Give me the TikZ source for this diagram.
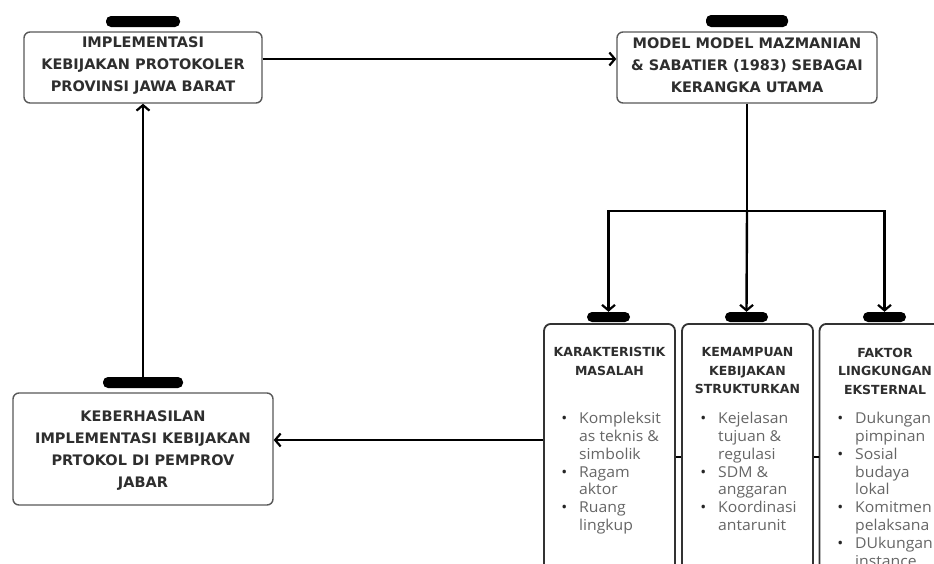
\documentclass[tikz,border=0pt]{standalone}
\usepackage{fontspec}
\setmainfont{Open Sans}[FakeStretch=1.05]
\newfontfamily\hdfont{DejaVu Sans}
\usetikzlibrary{arrows.meta}
\begin{document}
\begin{tikzpicture}[x=1pt,y=-1pt,
  box/.style={draw=black!65, line width=1.4pt, rounded corners=6pt, fill=white, inner sep=0pt},
  colbox/.style={draw=black!80, line width=1.8pt, rounded corners=7pt, fill=white, inner sep=0pt, minimum width=131pt, minimum height=300pt, anchor=north},
  tabbar/.style={fill=black, rounded corners=5pt, inner sep=0pt},
  conn/.style={line width=2.4pt, -{Straight Barb[length=5.5pt,width=13pt,line width=2.2pt]}},
  plain/.style={line width=2.2pt},
  hd/.style={font=\hdfont\bfseries\fontsize{14.5}{22}\selectfont, text=black!82, align=center, inner sep=0pt},
  sh/.style={font=\hdfont\bfseries\fontsize{12.5}{18.5}\selectfont, text=black!82, align=center, inner sep=0pt},
  body/.style={font=\fontsize{15}{17.8}\selectfont, text=black!60, align=left, inner sep=0pt, anchor=north west},
]
\useasboundingbox (0,0) rectangle (934,563);
\fill[white] (0,0) rectangle (934,563);
\clip (0,0) rectangle (934,563);
\newcommand\bul{\llap{\textcolor{black!85}{\textbullet}\hspace{12pt}}}

% top left box
\node[box, minimum width=238pt, minimum height=71pt] (tl) at (143,67.5) {};
\node[tabbar, minimum width=74pt, minimum height=11pt] (tlt) at (143,21.5) {};
\node[hd] (tltx) at (143,65.5) {IMPLEMENTASI\\KEBIJAKAN PROTOKOLER\\PROVINSI JAWA BARAT};

% model box
\node[box, minimum width=260pt, minimum height=71pt] (mm) at (747,67.5) {};
\node[tabbar, minimum width=82pt, minimum height=12pt] (mmt) at (747,21) {};
\node[hd] (mmtx) at (747,65.5) {MODEL MODEL MAZMANIAN\\\& SABATIER (1983) SEBAGAI\\KERANGKA UTAMA};

% bottom left box
\node[box, minimum width=260pt, minimum height=112pt] (bl) at (143,449) {};
\node[tabbar, minimum width=80pt, minimum height=11pt] (blt) at (143,382.5) {};
\node[hd] (bltx) at (143,450.5) {KEBERHASILAN\\IMPLEMENTASI KEBIJAKAN\\PRTOKOL DI PEMPROV\\JABAR};

% three column boxes
\node[colbox] (b1) at (609.5,323) {};
\node[colbox] (b2) at (747.5,323) {};
\node[colbox] (b3) at (885,323) {};
\node[tabbar, minimum width=43pt, minimum height=10pt] (t1) at (608.5,317) {};
\node[tabbar, minimum width=43pt, minimum height=10pt] (t2) at (746.5,317) {};
\node[tabbar, minimum width=43pt, minimum height=10pt] (t3) at (884.5,317) {};

\node[sh] (h1) at (609.5,361.5) {KARAKTERISTIK\\MASALAH};
\node[sh] (h2) at (747.5,371) {KEMAMPUAN\\KEBIJAKAN\\STRUKTURKAN};
\node[sh] (h3) at (885,371) {FAKTOR\\LINGKUNGAN\\EKSTERNAL};

\node[body] (l1) at (579,412) {\bul Kompleksit\\as teknis \&\\simbolik\\\bul Ragam\\aktor\\\bul Ruang\\lingkup};
\node[body] (l2) at (718,412) {\bul Kejelasan\\tujuan \&\\regulasi\\\bul SDM \&\\anggaran\\\bul Koordinasi\\antarunit};
\node[body] (l3) at (855,412) {\bul Dukungan\\pimpinan\\\bul Sosial\\budaya\\lokal\\\bul Komitmen\\pelaksana\\\bul DUkungan\\instance};

% connectors
\draw[conn] (tl.east |- 0,59) -- (mm.west |- 0,59);
\coordinate (hub) at (747,211);
\draw[plain] (mm.south) -- (hub);
\draw[conn] (hub) -| (t1.north);
\draw[conn] (hub) -- (t2.north);
\draw[conn] (hub) -| (t3.north);
\draw[conn] (blt.north) -- (tl.south);
\draw[conn] (b1.west |- 0,440) -- (bl.east |- 0,440);
\draw[plain] (b1.east |- 0,457) -- (b2.west |- 0,457);
\draw[plain] (b2.east |- 0,457) -- (b3.west |- 0,457);
\end{tikzpicture}
\end{document}
